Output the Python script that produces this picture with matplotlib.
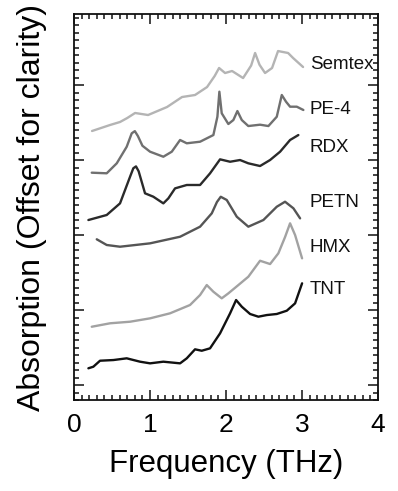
import matplotlib
matplotlib.use("Agg")
import matplotlib.pyplot as plt
from matplotlib.ticker import MultipleLocator, NullFormatter

plt.rcParams['font.family'] = ['Liberation Sans', 'DejaVu Sans']

semtex_x = [0.237, 0.474, 0.605, 0.70, 0.803, 0.974, 1.224, 1.421, 1.592, 1.75, 1.85, 1.908, 1.987, 2.079, 2.224, 2.33, 2.382, 2.44, 2.513, 2.605, 2.684, 2.75, 2.816, 2.882, 3.013]
semtex_y = [3.387, 3.467, 3.507, 3.56, 3.627, 3.600, 3.707, 3.840, 3.867, 3.973, 4.12, 4.227, 4.16, 4.187, 4.093, 4.26, 4.427, 4.27, 4.16, 4.227, 4.453, 4.44, 4.427, 4.36, 4.24]

pe4_x = [0.233, 0.430, 0.562, 0.693, 0.759, 0.80, 0.840, 0.90, 1.0, 1.175, 1.286, 1.395, 1.483, 1.658, 1.833, 1.886, 1.912, 1.943, 2.030, 2.096, 2.149, 2.207, 2.293, 2.447, 2.557, 2.667, 2.733, 2.789, 2.842, 2.930, 3.017]
pe4_y = [2.831, 2.823, 2.956, 3.177, 3.356, 3.385, 3.32, 3.19, 3.111, 3.044, 3.111, 3.267, 3.223, 3.244, 3.333, 3.577, 3.911, 3.623, 3.48, 3.533, 3.653, 3.533, 3.453, 3.471, 3.453, 3.577, 3.867, 3.777, 3.711, 3.711, 3.667]

rdx_x = [0.189, 0.43, 0.605, 0.737, 0.78, 0.815, 0.85, 0.934, 1.043, 1.175, 1.241, 1.329, 1.483, 1.658, 1.789, 1.921, 2.053, 2.184, 2.293, 2.447, 2.579, 2.711, 2.842, 2.951]
rdx_y = [2.2, 2.267, 2.422, 2.777, 2.89, 2.915, 2.85, 2.556, 2.511, 2.422, 2.489, 2.622, 2.667, 2.667, 2.822, 3.009, 2.977, 3.0, 2.956, 2.92, 3.0, 3.111, 3.267, 3.333]

petn_x = [0.299, 0.430, 0.605, 1.0, 1.395, 1.658, 1.812, 1.88, 1.93, 2.009, 2.141, 2.293, 2.491, 2.667, 2.776, 2.886, 2.974]
petn_y = [1.943, 1.867, 1.844, 1.889, 1.977, 2.111, 2.289, 2.44, 2.51, 2.467, 2.244, 2.111, 2.2, 2.377, 2.444, 2.356, 2.222]

hmx_x = [0.233, 0.474, 0.737, 1.0, 1.263, 1.526, 1.658, 1.746, 1.833, 1.943, 2.030, 2.162, 2.293, 2.447, 2.579, 2.688, 2.776, 2.842, 2.908, 3.0]
hmx_y = [0.777, 0.823, 0.844, 0.889, 0.956, 1.067, 1.2, 1.333, 1.244, 1.156, 1.222, 1.333, 1.444, 1.657, 1.613, 1.756, 1.973, 2.156, 2.0, 1.689]

tnt_x = [0.189, 0.254, 0.342, 0.518, 0.693, 0.868, 1.0, 1.175, 1.395, 1.483, 1.592, 1.680, 1.789, 1.921, 2.053, 2.132, 2.207, 2.316, 2.425, 2.536, 2.667, 2.799, 2.908, 3.0]
tnt_y = [0.223, 0.244, 0.324, 0.333, 0.356, 0.311, 0.289, 0.311, 0.289, 0.356, 0.476, 0.457, 0.489, 0.689, 0.956, 1.133, 1.044, 0.947, 0.911, 0.933, 0.947, 0.991, 1.089, 1.356]

labels = ["Semtex", "PE-4", "RDX", "PETN", "HMX", "TNT"]
label_y = [4.27, 3.67, 3.17, 2.44, 1.84, 1.28]
colors = ["#b4b4b4", "#707070", "#2a2a2a", "#555555", "#a2a2a2", "#111111"]

series = [(semtex_x, semtex_y), (pe4_x, pe4_y), (rdx_x, rdx_y),
          (petn_x, petn_y), (hmx_x, hmx_y), (tnt_x, tnt_y)]

fig = plt.figure(figsize=(3.98, 4.91), dpi=100)
ax = fig.add_axes([0.186, 0.1853, 0.764, 0.7862])

for (xs, ys), c, lab, ly in zip(series, colors, labels, label_y):
    ax.plot(xs, ys, color=c, lw=1.7, solid_joinstyle='round', solid_capstyle='round')
    ax.text(3.1, ly, lab, color='#111111', fontsize=13.5, va='center', ha='left')

ax.set_xlim(0, 4)
ax.set_ylim(-0.2, 4.947)
ax.xaxis.set_major_locator(MultipleLocator(1))
ax.xaxis.set_minor_locator(MultipleLocator(0.1))
ax.yaxis.set_major_locator(MultipleLocator(1))
ax.yaxis.set_minor_locator(MultipleLocator(0.1))
ax.yaxis.set_major_formatter(NullFormatter())
ax.tick_params(which='both', direction='in', top=True, right=True, width=1.1, color='#111111')
ax.tick_params(which='major', length=7)
ax.tick_params(which='minor', length=3.5)
ax.tick_params(axis='x', labelsize=19, pad=9)
for s in ax.spines.values():
    s.set_linewidth(1.3)
    s.set_color('#111111')

ax.set_xlabel("Frequency (THz)", fontsize=22.5, labelpad=9)
ax.set_ylabel("Absorption (Offset for clarity)", fontsize=23, labelpad=16)

fig.savefig("out.png", dpi=100)
